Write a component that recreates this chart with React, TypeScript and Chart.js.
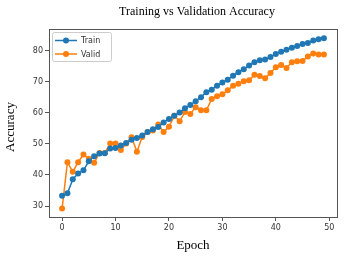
import React, { useEffect, useRef } from "react";
import { Chart, registerables } from "chart.js";

Chart.register(...registerables);

const epochs: number[] = Array.from({ length: 50 }, (_, i) => i);
const trainAcc: number[] = [33.3, 34.1, 38.6, 40.5, 41.5, 44.4, 46.0, 46.9, 47.0, 48.5, 48.7, 49.5, 50.3, 51.3, 51.9, 52.7, 53.8, 54.7, 55.4, 56.9, 58.0, 59.0, 60.1, 61.4, 62.5, 63.7, 65.0, 66.6, 67.4, 68.7, 69.7, 70.6, 71.9, 73.0, 74.0, 75.2, 76.2, 76.9, 77.1, 77.9, 78.9, 79.6, 80.2, 80.9, 81.4, 82.1, 82.4, 83.2, 83.6, 83.9];
const validAcc: number[] = [29.2, 44.1, 41.0, 44.1, 46.6, 45.2, 43.9, 47.1, 47.1, 50.1, 50.1, 48.0, 50.1, 52.1, 47.5, 52.2, 53.8, 54.3, 56.2, 53.8, 55.5, 59.0, 57.3, 60.2, 59.6, 61.8, 60.8, 60.8, 64.4, 65.3, 65.9, 67.2, 68.7, 69.3, 70.1, 70.4, 72.2, 71.8, 71.1, 72.8, 74.6, 75.3, 74.4, 76.2, 76.5, 76.6, 78.1, 79.0, 78.7, 78.7];
const xTicks: number[] = [0, 10, 20, 30, 40, 50];
const yTicks: number[] = [30, 40, 50, 60, 70, 80];
const seriesNames: string[] = ["Train", "Valid"];
const seriesColors: string[] = ["#1f77b4", "#ff7f0e"];
const titleText = "Training vs Validation Accuracy";
const xLabel = "Epoch";
const yLabel = "Accuracy";

const W = 345;
const H = 258;

const decorPlugin = {
  id: "decor",
  afterDraw(chart: any) {
    const ctx = chart.ctx;
    const a = chart.chartArea;
    ctx.save();
    // frame
    ctx.strokeStyle = "#555";
    ctx.lineWidth = 1;
    ctx.strokeRect(Math.round(a.left) + 0.5, Math.round(a.top) + 0.5, Math.round(a.right - a.left), Math.round(a.bottom - a.top));
    // title & labels
    ctx.fillStyle = "#000";
    ctx.font = "12px 'Liberation Serif', serif";
    ctx.textAlign = "center";
    ctx.textBaseline = "middle";
    ctx.fillText(titleText, (a.left + a.right) / 2 + 4, 12);
    ctx.font = "13px 'Liberation Serif', serif";
    ctx.fillText(xLabel, (a.left + a.right) / 2, 246);
    ctx.save();
    ctx.translate(11, (a.top + a.bottom) / 2 + 4);
    ctx.rotate(-Math.PI / 2);
    ctx.fillText(yLabel, 0, 0);
    ctx.restore();
    // legend
    const lx = a.left + 3, ly = a.top + 3, lw = 59, lh = 29;
    ctx.fillStyle = "rgba(255,255,255,0.8)";
    ctx.strokeStyle = "#cccccc";
    ctx.lineWidth = 1;
    ctx.beginPath();
    if ((ctx as any).roundRect) (ctx as any).roundRect(lx + 0.5, ly + 0.5, lw, lh, 2);
    else ctx.rect(lx + 0.5, ly + 0.5, lw, lh);
    ctx.fill();
    ctx.stroke();
    seriesNames.forEach((name, i) => {
      const cy = ly + 8.5 + i * 13.5;
      ctx.strokeStyle = seriesColors[i];
      ctx.lineWidth = 1.5;
      ctx.beginPath();
      ctx.moveTo(lx + 3, cy);
      ctx.lineTo(lx + 25, cy);
      ctx.stroke();
      ctx.fillStyle = seriesColors[i];
      ctx.beginPath();
      ctx.arc(lx + 14, cy, 3, 0, Math.PI * 2);
      ctx.fill();
      ctx.fillStyle = "#333";
      ctx.font = "8px 'DejaVu Sans', sans-serif";
      ctx.textAlign = "left";
      ctx.fillText(name, lx + 29, cy + 0.5);
    });
    ctx.restore();
  },
};

export default function App() {
  const ref = useRef<HTMLCanvasElement | null>(null);
  useEffect(() => {
    if (!ref.current) return;
    const chart = new Chart(ref.current, {
      type: "line",
      data: {
        datasets: [
          {
            label: seriesNames[0],
            data: epochs.map((e, i) => ({ x: e, y: trainAcc[i] })),
            borderColor: seriesColors[0],
            backgroundColor: seriesColors[0],
            borderWidth: 1.5,
            pointRadius: 3,
            pointBorderWidth: 0,
            tension: 0,
          },
          {
            label: seriesNames[1],
            data: epochs.map((e, i) => ({ x: e, y: validAcc[i] })),
            borderColor: seriesColors[1],
            backgroundColor: seriesColors[1],
            borderWidth: 1.5,
            pointRadius: 3,
            pointBorderWidth: 0,
            tension: 0,
          },
        ],
      },
      options: {
        responsive: false,
        animation: false,
        devicePixelRatio: 1,
        layout: { padding: { top: 29, right: 8, left: 0, bottom: 0 } },
        plugins: { legend: { display: false }, tooltip: { enabled: false }, title: { display: false } },
        scales: {
          x: {
            type: "linear",
            min: -2.45,
            max: 51.45,
            afterBuildTicks: (s: any) => { s.ticks = xTicks.map((v) => ({ value: v })); },
            afterFit: (s: any) => { s.height = 41; },
            grid: { drawOnChartArea: false, drawTicks: true, tickLength: 4, color: "#555" },
            border: { display: false },
            ticks: { color: "#333", padding: 2, font: { size: 8, family: "'DejaVu Sans', sans-serif" }, maxRotation: 0 },
          },
          y: {
            type: "linear",
            min: 26.5,
            max: 86.9,
            afterBuildTicks: (s: any) => { s.ticks = yTicks.map((v) => ({ value: v })); },
            afterFit: (s: any) => { s.width = 49; },
            grid: { drawOnChartArea: false, drawTicks: true, tickLength: 4, color: "#555" },
            border: { display: false },
            ticks: { color: "#333", padding: 2, font: { size: 8, family: "'DejaVu Sans', sans-serif" } },
          },
        },
      },
      plugins: [decorPlugin],
    });
    return () => chart.destroy();
  }, []);
  return (
    <div style={{ position: "fixed", left: 0, top: 0, width: W, height: H, background: "#fff" }}>
      <canvas ref={ref} width={W} height={H} style={{ width: W, height: H, display: "block" }} />
    </div>
  );
}
